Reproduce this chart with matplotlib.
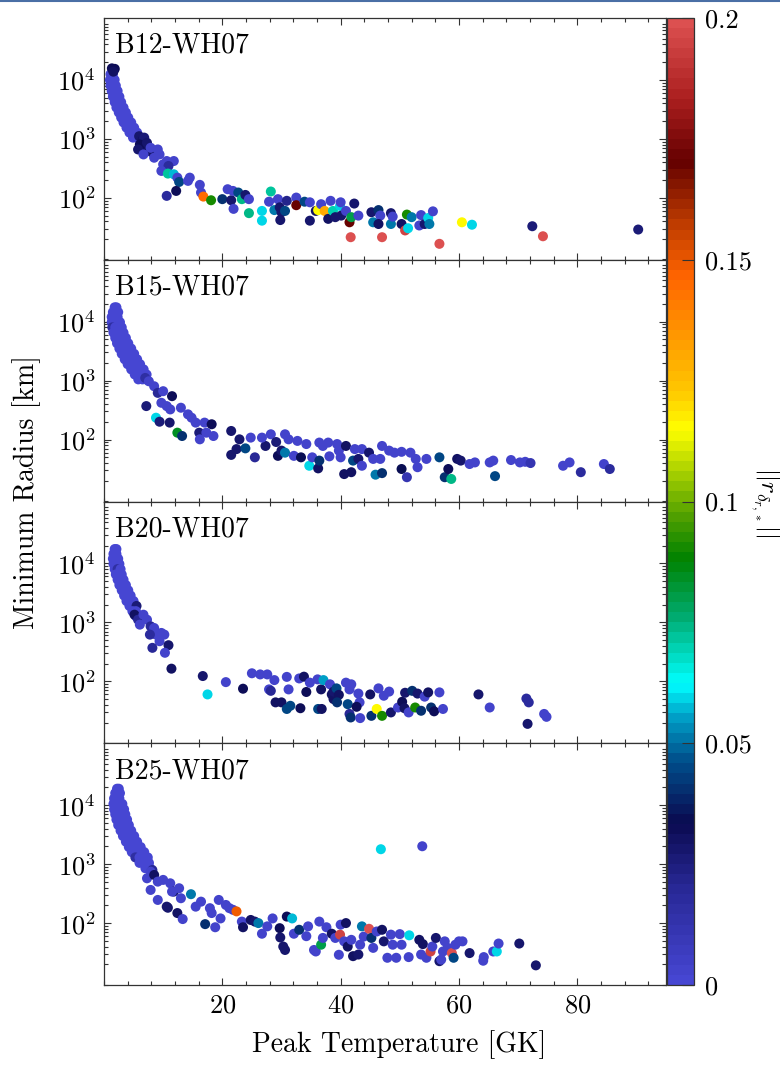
import matplotlib
matplotlib.use('Agg')
import matplotlib.pyplot as plt
from matplotlib.colors import LinearSegmentedColormap, Normalize
from matplotlib.cm import ScalarMappable
from matplotlib.ticker import MultipleLocator, LogLocator, NullFormatter
from matplotlib.lines import Line2D

plt.rcParams.update({
    'font.family': 'serif',
    'font.serif': ['cmr10'],
    'mathtext.fontset': 'cm',
    'axes.formatter.use_mathtext': True,
    'font.size': 19,
})

# (peak temperature [GK], minimum radius [km], ||r||)
b12_pts = [
    (1.1, 12500, .002), (1.5, 12500, .002),
    (1.0, 10000, .002), (1.4, 10000, .002), (1.8, 10000, .002),
    (1.1, 8000, .002), (1.6, 8000, .002), (2.0, 8000, .002),
    (1.3, 6500, .002), (1.8, 6500, .002), (2.3, 6500, .002),
    (1.5, 5200, .002), (2.0, 5200, .002), (2.6, 5200, .002),
    (1.8, 4200, .002), (2.3, 4200, .002), (2.9, 4200, .002),
    (2.1, 3400, .002), (2.7, 3400, .002), (3.3, 3400, .002),
    (2.5, 2800, .002), (3.1, 2800, .002), (3.7, 2800, .002),
    (2.9, 2300, .002), (3.5, 2300, .002), (4.1, 2300, .002),
    (3.3, 1900, .002), (3.9, 1900, .002), (4.6, 1900, .002),
    (3.8, 1550, .002), (4.4, 1550, .002), (5.1, 1550, .002),
    (4.3, 1280, .002), (4.9, 1280, .002), (5.6, 1280, .002),
    (4.9, 1050, .002), (5.5, 1050, .002),
    (1.33, 15700, .032), (1.82, 15400, .032), (1.58, 13800, .030),
    (5.94, 1110, .028), (6.5, 950, .030), (7.0, 760, .032), (6.3, 700, .030),
    (8.0, 600, .028), (6.8, 1050, .026),
    (6.06, 803, .033), (5.76, 662, .028), (7.27, 857, .028), (7.88, 706, .003),
    (9.09, 662, .003), (6.67, 545, .003), (8.48, 479, .003), (9.39, 545, .003),
    (10.6, 421, .003), (11.8, 421, .003), (10.0, 370, .003), (10.9, 347, .018),
    (9.70, 286, .003), (10.8, 258, .072), (11.8, 251, .058), (12.4, 220, .003),
    (12.7, 186, .045), (14.5, 220, .003), (14.2, 194, .003), (16.2, 166, .003),
    (16.4, 123, .003), (16.8, 105, .145), (18.1, 91, .090), (10.6, 108, .018),
    (12.2, 131, .032), (20.9, 140, .003), (20.0, 95, .040), (21.5, 91, .028),
    (21.8, 131, .003), (22.7, 123, .045), (23.3, 95, .075), (23.9, 112, .028),
    (24.5, 95, .003), (21.9, 65, .003), (24.5, 55, .075), (26.7, 60, .060),
    (26.7, 41, .060), (28.2, 128, .072), (27.9, 86, .003), (28.8, 62, .050),
    (29.4, 95, .003), (29.7, 69, .028), (30.0, 57, .028), (29.8, 42, .028),
    (30.6, 60, .045), (30.9, 89, .022), (32.5, 101, .003), (32.5, 75, .170),
    (33.9, 86, .045), (34.8, 84, .003), (34.8, 41, .028), (35.8, 60, .030),
    (36.2, 62, .115), (36.7, 78, .003), (37.3, 60, .130), (37.9, 44, .030),
    (38.7, 60, .070), (38.3, 89, .003), (39.1, 47, .028), (39.9, 73, .060),
    (40.0, 84, .003), (40.1, 50, .028), (40.9, 60, .003), (41.5, 38.5, .170),
    (41.8, 47, .080), (42.3, 80, .028), (43.0, 50, .003), (41.7, 21.5, .198),
    (45.2, 57, .028), (45.5, 38.5, .050), (46.4, 62, .040), (46.7, 50, .003),
    (46.4, 36, .030), (47.0, 21.5, .198), (48.5, 55, .028), (48.5, 36, .050),
    (48.8, 48, .003), (50.3, 36, .030), (50.9, 28, .195), (51.2, 52, .090),
    (52.0, 47, .050), (51.4, 30.5, .060), (53.3, 34, .003), (53.6, 51, .003),
    (54.2, 36, .028), (54.8, 45.5, .060), (55.0, 36, .050), (55.6, 59, .003),
    (56.7, 16.6, .198), (60.5, 38.5, .115), (62.2, 35, .060), (72.4, 33, .026),
    (74.2, 22.3, .198), (90.3, 29, .026),
]

b15_pts = [
    (1.8, 17500, .002), (2.1, 17500, .002),
    (1.5, 14500, .002), (2.0, 14500, .002), (2.4, 14500, .002),
    (1.3, 12000, .002), (1.8, 12000, .002), (2.3, 12000, .002),
    (1.3, 9800, .002), (1.8, 9800, .002), (2.3, 9800, .002), (2.7, 9800, .002),
    (1.4, 8000, .015), (1.9, 8000, .002), (2.5, 8000, .002), (3.0, 8000, .002),
    (1.6, 6500, .002), (2.2, 6500, .002), (2.8, 6500, .002), (3.3, 6500, .002),
    (1.9, 5300, .002), (2.5, 5300, .002), (3.1, 5300, .002), (3.7, 5300, .002),
    (2.2, 4300, .002), (2.9, 4300, .002), (3.5, 4300, .002), (4.1, 4300, .002),
    (2.6, 3500, .002), (3.3, 3500, .002), (3.9, 3500, .002), (4.6, 3500, .002),
    (3.0, 2850, .002), (3.7, 2850, .002), (4.4, 2850, .002), (5.1, 2850, .002),
    (3.5, 2300, .002), (4.2, 2300, .002), (4.9, 2300, .002), (5.6, 2300, .002),
    (4.0, 1900, .002), (4.7, 1900, .002), (5.4, 1900, .002), (6.1, 1900, .002),
    (4.6, 1550, .002), (5.3, 1550, .002), (6.0, 1550, .002), (6.7, 1550, .002),
    (5.2, 1270, .002), (5.9, 1270, .002), (6.6, 1270, .002), (7.2, 1270, .002),
    (5.8, 1050, .002), (6.5, 1050, .002), (7.1, 1050, .002),
    (6.97, 1110, .015), (7.58, 975, .003), (8.48, 803, .003), (9.09, 620, .020),
    (10.0, 662, .003), (9.70, 421, .003), (10.6, 370, .003), (11.5, 545, .032),
    (11.2, 325, .003), (7.15, 370, .025), (8.79, 235, .060), (9.39, 201, .026),
    (11.1, 194, .028), (12.4, 131, .085), (13.2, 115, .040), (13.0, 347, .003),
    (14.2, 268, .003), (14.8, 235, .003), (15.5, 194, .003), (17.0, 194, .003),
    (18.2, 182, .032), (16.1, 131, .026), (16.2, 101, .003), (17.3, 131, .003),
    (18.5, 115, .003), (21.5, 140, .028), (21.5, 55, .028), (22.4, 69, .028),
    (22.9, 101, .028), (23.9, 71, .045), (24.8, 108, .003), (25.5, 50, .020),
    (27.3, 78, .028), (26.7, 108, .003), (28.2, 123, .003), (29.1, 91, .026),
    (29.4, 53, .032), (30.0, 65, .028), (30.6, 60, .050), (30.6, 123, .003),
    (31.2, 101, .003), (32.1, 53, .003), (32.7, 95, .003), (33.3, 50, .035),
    (34.2, 84, .003), (34.7, 36, .060), (35.2, 50, .003), (36.2, 32.5, .030),
    (36.4, 44, .040), (36.4, 89, .003), (37.0, 78, .003), (37.9, 89, .003),
    (38.1, 52, .003), (39.4, 84, .003), (39.7, 65, .003), (40.0, 50, .003),
    (40.6, 26, .030), (40.9, 78, .030), (41.8, 28, .030), (42.1, 44, .045),
    (42.4, 69, .003), (43.0, 47, .028), (43.6, 36, .003), (43.6, 69, .003),
    (44.8, 60, .028), (45.5, 47, .003), (45.9, 25.4, .050), (46.7, 47, .003),
    (47.0, 27, .040), (47.0, 78, .003), (48.2, 65, .003), (49.1, 60, .003),
    (50.3, 31.7, .035), (50.3, 62, .003), (51.2, 23, .012), (51.8, 60, .003),
    (53.0, 34, .003), (52.7, 47, .003), (54.5, 47, .003), (56.7, 50, .045),
    (57.6, 23, .040), (58.2, 31.7, .032), (58.7, 21.5, .075), (59.7, 47, .030),
    (60.3, 44, .028), (61.8, 38.5, .003), (62.7, 41, .003), (65.2, 41, .003),
    (65.8, 44, .003), (66.1, 24, .045), (68.8, 45, .003), (70.3, 41, .003),
    (71.2, 42, .003), (72.1, 40, .012), (77.6, 36, .003), (78.7, 41, .003),
    (80.6, 28, .018), (84.5, 38.5, .003), (85.5, 31.7, .018),
]

b20_pts = [
    (1.8, 17500, .002), (2.1, 17500, .002),
    (1.6, 14500, .002), (2.1, 14500, .002),
    (1.5, 12000, .002), (2.0, 12000, .002), (2.4, 12000, .002),
    (1.6, 9800, .002), (2.1, 9800, .002), (2.6, 9800, .002),
    (1.8, 8000, .002), (2.3, 8000, .015), (2.8, 8000, .002),
    (2.0, 6500, .002), (2.5, 6500, .002), (3.0, 6500, .002),
    (2.3, 5300, .002), (2.8, 5300, .002), (3.3, 5300, .002),
    (2.6, 4300, .002), (3.1, 4300, .002), (3.7, 4300, .002),
    (3.0, 3500, .002), (3.5, 3500, .002), (4.1, 3500, .002),
    (3.4, 2850, .002), (3.9, 2850, .002), (4.5, 2850, .002),
    (3.8, 2300, .002), (4.4, 2300, .002), (5.0, 2300, .002),
    (4.3, 1900, .002), (4.9, 1900, .002), (5.5, 1900, .025),
    (4.8, 1550, .002), (5.4, 1550, .002), (5.4, 1270, .002),
    (5.15, 1350, .030), (5.76, 1110, .020), (6.06, 915, .003), (6.67, 1350, .003),
    (7.27, 1110, .003), (7.88, 857, .020), (8.48, 803, .003), (8.79, 620, .003),
    (7.76, 620, .018), (9.70, 662, .003), (10.2, 620, .003), (9.39, 479, .003),
    (10.9, 410, .028), (10.3, 305, .003), (8.18, 370, .020), (11.4, 164, .030),
    (16.7, 123, .028), (17.5, 60, .060), (20.6, 97, .003), (23.5, 75, .032),
    (25.0, 137, .003), (26.4, 131, .003), (27.6, 131, .003), (28.8, 105, .003),
    (27.9, 73, .003), (28.2, 69, .020), (29.0, 44, .030), (30.0, 44, .030),
    (30.9, 119, .003), (31.2, 73, .003), (30.9, 34, .045), (31.5, 38.5, .045),
    (33.2, 35, .032), (33.0, 112, .003), (33.8, 120, .030), (34.2, 66, .032),
    (34.8, 95, .003), (36.1, 108, .003), (36.2, 34, .045), (36.8, 34, .030),
    (36.7, 73, .030), (37.1, 105, .055), (38.2, 89, .003), (38.5, 60, .030),
    (38.8, 50, .030), (38.8, 67, .028), (39.3, 76, .045), (39.7, 59, .030),
    (39.4, 44, .040), (40.9, 95, .003), (41.8, 89, .003), (41.5, 73, .003),
    (41.2, 41, .045), (41.5, 28, .020), (41.7, 24.4, .040), (43.0, 62, .003),
    (43.2, 44, .003), (42.7, 37, .032), (43.3, 23.8, .003), (45.0, 60, .030),
    (45.2, 26, .040), (46.4, 76, .003), (46.1, 34, .115), (47.0, 26, .090),
    (47.3, 57, .003), (48.2, 67, .003), (48.5, 29.7, .028), (49.7, 36, .003),
    (50.4, 45, .032), (50.8, 35, .030), (50.9, 64, .028), (51.5, 29.7, .003),
    (52.1, 69, .040), (52.6, 36, .090), (53.0, 62, .028), (53.6, 31.7, .040),
    (54.2, 55, .003), (54.8, 65, .030), (55.3, 36, .040), (55.8, 31, .032),
    (56.7, 65, .003), (57.3, 34, .003), (63.3, 60, .028), (65.2, 36, .003),
    (71.4, 51, .018), (71.8, 44, .018), (71.6, 19, .028), (74.4, 28, .003),
    (74.8, 25, .003),
]

b25_pts = [
    (2.2, 19000, .002), (2.5, 19000, .002),
    (1.9, 16000, .002), (2.3, 16000, .002), (2.7, 16000, .002),
    (1.7, 13000, .002), (2.1, 13000, .002), (2.6, 13000, .002),
    (1.6, 10500, .002), (2.1, 10500, .002), (2.7, 10500, .002), (3.1, 10500, .002),
    (1.7, 8500, .002), (2.3, 8500, .002), (2.9, 8500, .002), (3.4, 8500, .002),
    (1.9, 7000, .002), (2.5, 7000, .002), (3.1, 7000, .002), (3.6, 7000, .002),
    (2.1, 5700, .002), (2.7, 5700, .002), (3.3, 5700, .002), (3.9, 5700, .002),
    (2.4, 4600, .002), (3.0, 4600, .002), (3.6, 4600, .002), (4.2, 4600, .002),
    (2.8, 3700, .002), (3.4, 3700, .002), (4.0, 3700, .002), (4.6, 3700, .002),
    (3.2, 3000, .002), (3.8, 3000, .002), (4.4, 3000, .002), (5.1, 3000, .002),
    (3.7, 2400, .002), (4.3, 2400, .002), (4.9, 2400, .002), (5.6, 2400, .002),
    (4.2, 1950, .002), (4.8, 1950, .002), (5.5, 1950, .002), (6.2, 1950, .002),
    (4.7, 1600, .002), (5.4, 1600, .002), (6.1, 1600, .002), (6.8, 1600, .002),
    (5.3, 1300, .015), (6.0, 1300, .002), (6.7, 1300, .002), (7.4, 1300, .002),
    (6.0, 1050, .002), (6.8, 1050, .002), (7.6, 1050, .002),
    (7.0, 850, .002), (7.8, 850, .002), (8.18, 794, .020),
    (7.88, 745, .003), (7.27, 575, .003), (8.48, 655, .030), (9.09, 505, .003),
    (10.0, 540, .003), (11.2, 473, .003), (11.8, 342, .028), (12.7, 390, .003),
    (7.88, 365, .003), (9.09, 247, .003), (10.6, 190, .028), (10.8, 182, .028),
    (11.5, 342, .003), (13.0, 264, .003), (14.7, 309, .052), (12.4, 148, .030),
    (13.3, 117, .003), (15.5, 190, .003), (16.4, 231, .003), (17.1, 96, .040),
    (17.9, 179, .003), (18.2, 148, .003), (18.8, 85, .003), (19.4, 247, .003),
    (19.7, 120, .003), (20.6, 203, .003), (21.2, 179, .003), (21.8, 168, .003),
    (22.4, 158, .150), (23.3, 106, .003), (23.5, 85, .030), (24.8, 113, .030),
    (25.5, 106, .028), (26.1, 100, .050), (26.7, 66, .003), (27.6, 88, .003),
    (28.5, 120, .003), (29.7, 82, .032), (29.8, 57, .028), (30.3, 40, .028),
    (30.6, 35, .028), (30.9, 129, .032), (31.8, 120, .058), (32.1, 66, .003),
    (33.0, 77, .040), (34.2, 60, .003), (34.5, 88, .003), (35.5, 35, .003),
    (35.8, 33, .003), (36.7, 43, .080), (36.4, 106, .003), (37.0, 56, .003),
    (37.6, 85, .003), (38.5, 66, .030), (39.1, 56, .003), (39.7, 29, .003),
    (39.9, 63.7, .195), (40.0, 94, .003), (40.6, 49, .003), (40.9, 100, .030),
    (41.2, 40, .030), (41.8, 52, .003), (42.1, 27.5, .030), (43.0, 29.3, .028),
    (43.3, 43, .003), (43.6, 88, .050), (43.9, 59, .003), (44.8, 80, .198),
    (45.2, 56, .040), (45.5, 38, .003), (46.1, 72, .003), (47.0, 77, .030),
    (47.3, 49, .028), (47.9, 25.8, .003), (48.5, 63.7, .003), (48.8, 43, .003),
    (49.4, 25.8, .003), (50.0, 65, .003), (50.3, 43, .003), (51.5, 26.5, .003),
    (51.6, 62, .060), (53.3, 52, .030), (53.6, 29.3, .003), (53.9, 44, .030),
    (54.5, 25.8, .003), (55.2, 33, .195), (55.5, 40, .003), (56.1, 56, .028),
    (56.7, 22.6, .028), (57.0, 24, .003), (57.3, 33, .003), (57.6, 49, .003),
    (58.1, 38, .003), (58.8, 31, .198), (59.1, 25.8, .045), (59.4, 43, .003),
    (60.0, 49, .003), (60.6, 49, .003), (61.8, 31, .028), (64.1, 23, .003),
    (64.2, 26.5, .003), (65.8, 33, .003), (66.4, 33, .060), (66.7, 45, .003),
    (70.2, 45, .028), (73.0, 19.2, .028), (46.8, 1790, .060), (53.8, 2010, .003),
]

panel_names = ['B12-WH07', 'B15-WH07', 'B20-WH07', 'B25-WH07']
panel_data = [b12_pts, b15_pts, b20_pts, b25_pts]

cbar_ticks = [0, 0.05, 0.1, 0.15, 0.2]
cbar_ticklabels = ['0', '0.05', '0.1', '0.15', '0.2']

# colormap stops (value in 0..0.2, rgb)
cmap_stops = [
    (0.000, (70, 70, 210)), (0.019, (40, 40, 150)), (0.033, (10, 10, 80)),
    (0.046, (0, 80, 140)), (0.055, (0, 160, 200)), (0.062, (0, 255, 255)),
    (0.076, (0, 170, 110)), (0.088, (0, 130, 0)), (0.097, (80, 160, 0)),
    (0.115, (255, 255, 0)), (0.123, (255, 200, 0)), (0.147, (255, 100, 0)),
    (0.158, (190, 60, 0)), (0.171, (100, 0, 0)), (0.184, (170, 30, 30)),
    (0.200, (220, 80, 80)),
]
cmap = LinearSegmentedColormap.from_list(
    'rnorm', [(v / 0.2, tuple(ch / 255 for ch in rgb)) for v, rgb in cmap_stops], N=96)
norm = Normalize(vmin=0, vmax=0.2)

W, H = 780, 1067
fig = plt.figure(figsize=(W / 100, H / 100), dpi=100)

left, right = 104 / W, 666 / W
top, bottom = 1 - 18 / H, 1 - 985 / H
ph = (top - bottom) / 4
edge = '0.2'

for i, (name, pts) in enumerate(zip(panel_names, panel_data)):
    ax = fig.add_axes([left, top - (i + 1) * ph, right - left, ph])
    T = [p[0] for p in pts]
    R = [p[1] for p in pts]
    C = [p[2] for p in pts]
    ax.scatter(T, R, c=C, cmap=cmap, norm=norm, s=52, linewidths=0, zorder=3)
    ax.set_yscale('log')
    ax.set_xlim(0, 95)
    ax.set_ylim(10 ** 0.95, 10 ** 5.05)
    ax.set_yticks([1e2, 1e3, 1e4])
    ax.yaxis.set_minor_locator(LogLocator(base=10, subs=range(2, 10), numticks=20))
    ax.yaxis.set_minor_formatter(NullFormatter())
    ax.set_xticks([20, 40, 60, 80])
    ax.xaxis.set_minor_locator(MultipleLocator(4))
    ax.tick_params(which='both', direction='in', top=True, right=True,
                   color=edge, width=0.8)
    ax.tick_params(which='major', length=5, pad=6)
    ax.tick_params(which='minor', length=3)
    if i < 3:
        ax.tick_params(labelbottom=False)
    for sp in ax.spines.values():
        sp.set_color(edge)
        sp.set_linewidth(0.9)
    ax.text(0.02, 0.885, name, transform=ax.transAxes, ha='left', va='center',
            fontsize=20)

cax = fig.add_axes([667 / W, bottom, 27 / W, top - bottom])
cb = fig.colorbar(ScalarMappable(norm=norm, cmap=cmap), cax=cax)
cb.set_ticks(cbar_ticks)
cb.set_ticklabels(cbar_ticklabels)
cb.ax.tick_params(direction='in', length=9, width=0.8, color=edge, pad=8)
cb.outline.set_edgecolor(edge)
cb.outline.set_linewidth(0.9)

fig.text(765 / W, 1 - 502 / H, r'$||r_{\delta_{r,*}}||$', rotation=270,
         ha='center', va='center', fontsize=18)
fig.text(27 / W, 1 - 492 / H, 'Minimum Radius [km]', rotation=90,
         ha='center', va='center', fontsize=20)
fig.text(399 / W, 1 - 1045 / H, 'Peak Temperature [GK]',
         ha='center', va='center', fontsize=20)

fig.add_artist(Line2D([0, 1], [1 - 1 / H, 1 - 1 / H], color='#4a6fa5', lw=1.5))

fig.savefig('out.png', dpi=100)
